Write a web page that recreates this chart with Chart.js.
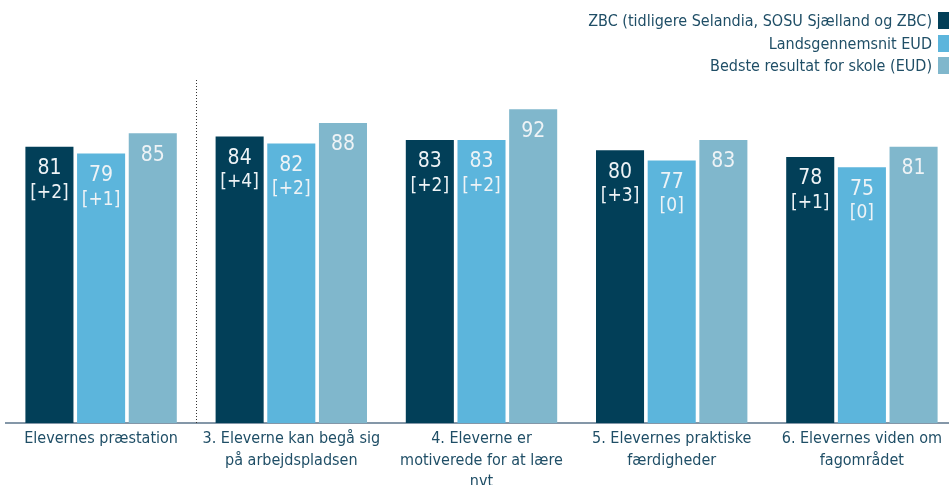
<!DOCTYPE html>
<html><head><meta charset="utf-8">
<script src="https://cdn.jsdelivr.net/npm/chart.js@4/dist/chart.umd.min.js"></script>
<style>
html,body{margin:0;padding:0;background:#fff;overflow:hidden;}
#wrap{position:relative;width:949px;height:485px;overflow:hidden;}
#legend{position:absolute;right:0;top:10px;font-family:"DejaVu Sans Condensed","DejaVu Sans",sans-serif;font-size:16px;color:#1f4e66;text-align:right;}
#legend .row{height:22.5px;line-height:22px;white-space:nowrap;}
#legend .box{display:inline-block;width:11px;height:17px;vertical-align:-3px;margin-left:6px;}
canvas{display:block;}
</style></head>
<body><div id="wrap"><canvas id="c" width="957" height="485"></canvas><div id="legend"></div></div>
<script>
const categories = [
  ["Elevernes præstation"],
  ["3. Eleverne kan begå sig", "på arbejdspladsen"],
  ["4. Eleverne er", "motiverede for at lære", "nvt"],
  ["5. Elevernes praktiske", "færdigheder"],
  ["6. Elevernes viden om", "fagområdet"]
];
const seriesNames = ["ZBC (tidligere Selandia, SOSU Sjælland og ZBC)", "Landsgennemsnit EUD", "Bedste resultat for skole (EUD)"];
const zbc = [81, 84, 83, 80, 78];
const zbcDelta = ["[+2]", "[+4]", "[+2]", "[+3]", "[+1]"];
const lands = [79, 82, 83, 77, 75];
const landsDelta = ["[+1]", "[+2]", "[+2]", "[0]", "[0]"];
const best = [85, 88, 92, 83, 81];
const colors = ["#023f58", "#5cb5dc", "#80b7cc"];

const FONT = '"DejaVu Sans Condensed","DejaVu Sans",sans-serif';

const lg = document.getElementById('legend');
seriesNames.forEach((n,i)=>{
  const r=document.createElement('div');r.className='row';
  r.innerHTML='<span>'+n+'</span><span class="box" style="background:'+colors[i]+'"></span>';
  lg.appendChild(r);
});

const labelPlugin = {
  id:'labels',
  afterDatasetsDraw(chart){
    const ctx=chart.ctx;
    const deltas=[zbcDelta, landsDelta, null];
    ctx.save();
    ctx.fillStyle='#eef3f6';
    ctx.textAlign='center';
    ctx.textBaseline='middle';
    chart.data.datasets.forEach((ds,di)=>{
      chart.getDatasetMeta(di).data.forEach((bar,i)=>{
        ctx.font='21px '+FONT;
        ctx.fillText(String(ds.data[i]), bar.x, bar.y+22);
        if(deltas[di]){
          ctx.font='19px '+FONT;
          ctx.fillText(deltas[di][i], bar.x, bar.y+46);
        }
      });
    });
    ctx.restore();
  }
};
const sepPlugin = {
  id:'sep',
  afterDatasetsDraw(chart){
    const x=chart.scales.x;
    const xp=(x.getPixelForValue(0)+x.getPixelForValue(1))/2;
    const ctx=chart.ctx;
    ctx.save();
    ctx.strokeStyle='#333';
    ctx.lineWidth=1;
    ctx.setLineDash([1,2]);
    ctx.beginPath();
    ctx.moveTo(Math.round(xp)+0.5, chart.chartArea.top-2);
    ctx.lineTo(Math.round(xp)+0.5, chart.chartArea.bottom);
    ctx.stroke();
    ctx.restore();
  }
};

new Chart(document.getElementById('c'), {
  type:'bar',
  data:{
    labels:categories,
    datasets:[
      {label:seriesNames[0], data:zbc, backgroundColor:colors[0]},
      {label:seriesNames[1], data:lands, backgroundColor:colors[1]},
      {label:seriesNames[2], data:best, backgroundColor:colors[2]}
    ]
  },
  options:{
    responsive:false,
    animation:false,
    layout:{padding:{left:6,right:0,top:82,bottom:0}},
    datasets:{bar:{categoryPercentage:0.815, barPercentage:0.93}},
    plugins:{legend:{display:false}, tooltip:{enabled:false}},
    scales:{
      y:{display:false, min:0, max:100},
      x:{
        grid:{display:false},
        border:{display:true, color:'#8497a8', width:2},
        ticks:{color:'#1f4e66', font:{family:FONT, size:16, lineHeight:1.35}, padding:-3, maxRotation:0, autoSkip:false},
        afterFit(s){ s.height=62; }
      }
    }
  },
  plugins:[labelPlugin, sepPlugin]
});
</script></body></html>
